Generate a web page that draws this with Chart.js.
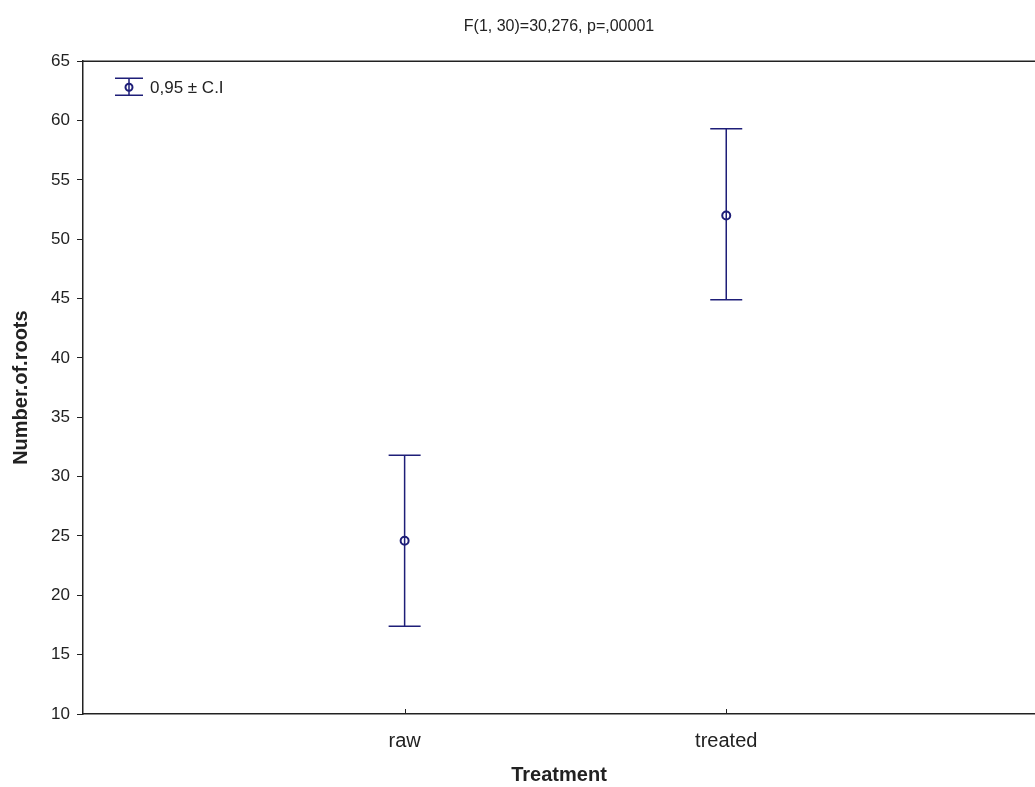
<!DOCTYPE html>
<html>
<head>
<meta charset="utf-8">
<script src="https://cdn.jsdelivr.net/npm/chart.js@4/dist/chart.umd.min.js"></script>
<style>
  html, body { margin: 0; padding: 0; background: #fff; overflow: hidden; }
  canvas { display: block; }
</style>
</head>
<body>
<canvas id="myChart" width="1035" height="787"></canvas>
<script>
// values
const treatments = ['raw', 'treated'];
const means = [24.6, 52.0];
const ciLow = [17.4, 44.9];
const ciHigh = [31.8, 59.3];
const yMin = 10, yMax = 65, yStep = 5;
const titleText = 'F(1, 30)=30,276, p=,00001';
const legendText = '0,95 \u00b1 C.I';

const navy = '#1e1e78';
const axisColor = '#222';
const fontFamily = "'Liberation Sans', Arial, sans-serif";

// draws the confidence interval whiskers, top frame line, inward x ticks and the legend
const errorBars = {
  id: 'errorBars',
  beforeDatasetsDraw(chart) {
    const ctx = chart.ctx;
    const x = chart.scales.x, y = chart.scales.y;
    ctx.save();
    ctx.strokeStyle = navy;
    ctx.lineWidth = 1.5;
    treatments.forEach((t, i) => {
      const px = x.getPixelForValue(i);
      const top = y.getPixelForValue(ciHigh[i]);
      const bot = y.getPixelForValue(ciLow[i]);
      ctx.beginPath();
      ctx.moveTo(px, top); ctx.lineTo(px, bot);
      ctx.moveTo(px - 16, top); ctx.lineTo(px + 16, top);
      ctx.moveTo(px - 16, bot); ctx.lineTo(px + 16, bot);
      ctx.stroke();
    });
    ctx.restore();
  },
  afterDraw(chart) {
    const ctx = chart.ctx;
    const a = chart.chartArea;
    const x = chart.scales.x;
    ctx.save();
    // top frame
    ctx.strokeStyle = axisColor;
    ctx.lineWidth = 1.5;
    ctx.beginPath();
    ctx.moveTo(a.left, a.top); ctx.lineTo(a.right, a.top);
    ctx.stroke();
    // small inward ticks on x axis
    ctx.lineWidth = 1;
    treatments.forEach((t, i) => {
      const px = Math.round(x.getPixelForValue(i)) + 0.5;
      ctx.beginPath();
      ctx.moveTo(px, a.bottom); ctx.lineTo(px, a.bottom - 5);
      ctx.stroke();
    });
    // legend
    const lx = a.left + 46, ly = a.top + 26;
    ctx.strokeStyle = navy;
    ctx.lineWidth = 1.5;
    ctx.beginPath();
    ctx.moveTo(lx - 14, ly - 9); ctx.lineTo(lx + 14, ly - 9);
    ctx.moveTo(lx - 14, ly + 8); ctx.lineTo(lx + 14, ly + 8);
    ctx.moveTo(lx, ly - 9); ctx.lineTo(lx, ly + 8);
    ctx.stroke();
    ctx.lineWidth = 2;
    ctx.beginPath();
    ctx.arc(lx, ly, 3.5, 0, Math.PI * 2);
    ctx.stroke();
    ctx.fillStyle = '#222';
    ctx.font = '17px ' + fontFamily;
    ctx.textBaseline = 'middle';
    ctx.fillText(legendText, lx + 21, ly + 1);
    ctx.restore();
  }
};

const chart = new Chart(document.getElementById('myChart').getContext('2d'), {
  type: 'scatter',
  data: {
    datasets: [{
      label: legendText,
      data: treatments.map((t, i) => ({ x: i, y: means[i] })),
      borderColor: navy,
      backgroundColor: 'rgba(0,0,0,0)',
      pointRadius: 4,
      pointBorderWidth: 2,
      pointHoverRadius: 4
    }]
  },
  options: {
    responsive: false,
    animation: false,
    layout: { padding: 0, autoPadding: false },
    plugins: {
      legend: { display: false },
      tooltip: { enabled: false },
      title: {
        display: true,
        text: titleText,
        fullSize: false,
        color: '#222',
        font: { family: fontFamily, size: 16, weight: 'normal' },
        padding: { top: 17, bottom: 25 }
      }
    },
    scales: {
      x: {
        type: 'linear',
        min: -1,
        max: 1.96,
        afterBuildTicks: (scale) => { scale.ticks = treatments.map((t, i) => ({ value: i })); },
        afterFit: (scale) => {
          scale.height = 73;
          scale.paddingLeft = 0;
          scale.paddingRight = 0;
        },
        grid: { drawOnChartArea: false, drawTicks: false },
        border: { display: true, color: axisColor, width: 1.5 },
        ticks: {
          padding: 15,
          color: '#222',
          font: { family: fontFamily, size: 20 },
          callback: (v) => treatments[v]
        },
        title: {
          display: true,
          text: 'Treatment',
          color: '#222',
          font: { family: fontFamily, size: 20, weight: 'bold' },
          padding: { top: 0, bottom: 0 }
        }
      },
      y: {
        min: yMin,
        max: yMax,
        afterFit: (scale) => { scale.width = 83; },
        grid: { drawOnChartArea: false, drawTicks: true, tickLength: 6, color: axisColor },
        border: { display: true, color: axisColor, width: 1.5 },
        ticks: {
          stepSize: yStep,
          padding: 7,
          color: '#222',
          font: { family: fontFamily, size: 17 }
        },
        title: {
          display: true,
          text: 'Number.of.roots',
          color: '#222',
          font: { family: fontFamily, size: 20, weight: 'bold' },
          padding: { top: 9, bottom: 0 }
        }
      }
    }
  },
  plugins: [errorBars]
});
</script>
</body>
</html>
